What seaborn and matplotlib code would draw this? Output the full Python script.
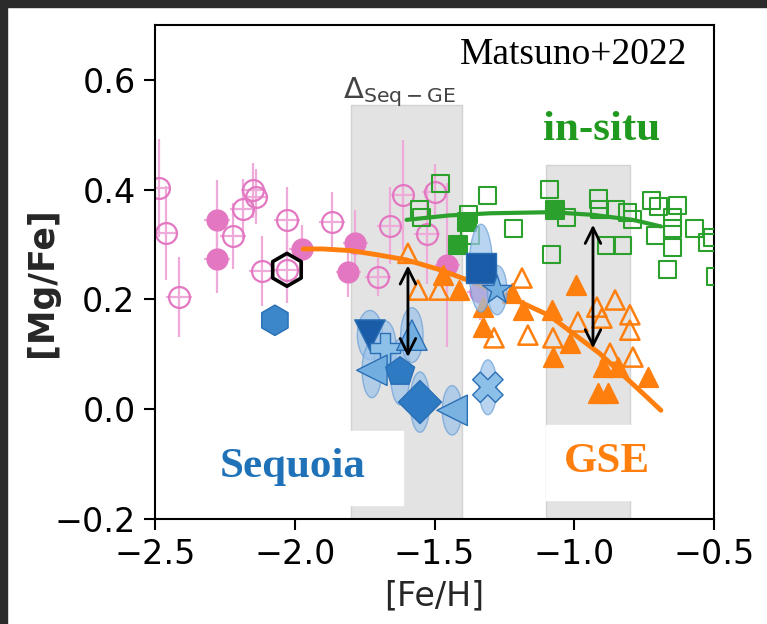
import matplotlib
matplotlib.use('Agg')
import matplotlib.pyplot as plt
from matplotlib.patches import Ellipse, Rectangle
import pandas as pd
import seaborn as sns

sns.set_style('ticks')
plt.rcParams['font.family'] = ['DejaVu Sans']

# ---- values ----
# ex-situ halo stars (pink), open and filled, with errors
pink_open_feh = [-2.486, -2.461, -2.414, -2.221, -2.185, -2.149, -2.139, -2.117,
                 -2.028, -2.028, -1.867, -1.702, -1.659, -1.613, -1.527, -1.498]
pink_open_mgfe = [0.403, 0.321, 0.204, 0.316, 0.365, 0.399, 0.387, 0.252,
                  0.345, 0.254, 0.341, 0.241, 0.334, 0.390, 0.319, 0.396]
pink_open_err = [0.09, 0.085, 0.073, 0.06, 0.055, 0.05, 0.05, 0.064,
                 0.06, 0.06, 0.055, 0.035, 0.07, 0.1, 0.09, 0.05]
pink_fill_feh = [-2.278, -2.278, -1.974, -1.784, -1.809, -1.455, -1.337]
pink_fill_mgfe = [0.345, 0.274, 0.292, 0.303, 0.250, 0.263, 0.213]
pink_fill_err = [0.073, 0.062, 0.044, 0.06, 0.045, 0.15, 0.05]
pink_xerr = 0.045
ring_feh = [-2.028]
ring_mgfe = [0.254]

# in-situ (green squares)
insitu_open_feh = [-1.480, -1.309, -1.087, -0.915, -1.219, -1.026, -1.080, -0.883,
                   -0.829, -0.811, -0.790, -0.722, -0.700, -0.632, -0.650, -0.650,
                   -0.711, -0.568, -0.650, -0.668, -0.525, -0.507, -0.908, -0.854,
                   -1.552, -1.545, -1.380, -1.373, -0.495]
insitu_open_mgfe = [0.412, 0.390, 0.401, 0.383, 0.330, 0.350, 0.281, 0.299,
                    0.299, 0.359, 0.345, 0.381, 0.369, 0.372, 0.350, 0.330,
                    0.317, 0.330, 0.294, 0.254, 0.303, 0.312, 0.363, 0.363,
                    0.363, 0.350, 0.354, 0.317, 0.241]
insitu_fill_feh = [-1.416, -1.384, -1.069]
insitu_fill_mgfe = [0.299, 0.341, 0.363]
insitu_fit_feh = [-1.60, -1.45, -1.30, -1.08, -0.93, -0.79, -0.69]
insitu_fit_mgfe = [0.345, 0.353, 0.357, 0.359, 0.354, 0.345, 0.333]

# GSE (orange triangles)
gse_open_feh = [-1.595, -1.559, -1.484, -1.187, -1.287, -1.166, -1.076, -0.987,
                -0.919, -0.901, -0.854, -0.801, -0.801, -0.790, -0.872]
gse_open_mgfe = [0.284, 0.217, 0.217, 0.239, 0.130, 0.135, 0.130, 0.159,
                 0.186, 0.166, 0.199, 0.172, 0.144, 0.095, 0.102]
gse_fill_feh = [-1.412, -1.470, -1.327, -1.327, -1.223, -1.183, -1.080, -1.076,
                -1.015, -0.994, -0.897, -0.843, -0.736, -0.915, -0.879]
gse_fill_mgfe = [0.217, 0.244, 0.186, 0.150, 0.212, 0.181, 0.181, 0.095,
                 0.120, 0.226, 0.077, 0.077, 0.059, 0.029, 0.029]
gse_fit_feh = [-1.97, -1.90, -1.80, -1.70, -1.60, -1.48, -1.38, -1.23,
               -1.09, -0.91, -0.74, -0.69]
gse_fit_mgfe = [0.292, 0.292, 0.289, 0.281, 0.272, 0.254, 0.235, 0.204,
                0.171, 0.102, 0.022, -0.002]

# Sequoia (blue symbols with error ellipses)
seq_name = ['hex', 'square', 'star', 'vdown', 'plus', 'left1', 'pent',
            'diamond', 'left2', 'cross', 'up']
seq_feh = [-2.071, -1.334, -1.276, -1.731, -1.677, -1.724, -1.623,
           -1.552, -1.437, -1.309, -1.581]
seq_mgfe = [0.162, 0.257, 0.217, 0.135, 0.111, 0.071, 0.068,
            0.013, -0.002, 0.040, 0.135]
seq_xerr = [0.0, 0.042, 0.035, 0.045, 0.04, 0.035, 0.035, 0.035, 0.035, 0.032, 0.04]
seq_yerr = [0.0, 0.08, 0.045, 0.045, 0.05, 0.05, 0.06, 0.055, 0.045, 0.05, 0.05]
seq_markers = {'hex': 'h', 'square': 's', 'star': '*', 'vdown': 'v', 'plus': 'P',
               'left1': '<', 'pent': 'p', 'diamond': 'D', 'left2': '<',
               'cross': 'X', 'up': '^'}
seq_colors = {'hex': '#3b87c9', 'square': '#1a5ca8', 'star': '#72aee0',
              'vdown': '#1a5ca8', 'plus': '#8dc0e8', 'left1': '#72aee0',
              'pent': '#2e7bc4', 'diamond': '#2e7bc4', 'left2': '#7ab3e2',
              'cross': '#8dc0e8', 'up': '#72aee0'}

# shaded [Fe/H] windows and the offsets
band_lo = [-1.8, -1.1]
band_hi = [-1.4, -0.8]
band_top = [0.555, 0.445]
arrow_feh = [-1.595, -0.933]
arrow_top = [0.262, 0.336]
arrow_bottom = [0.095, 0.111]

pink = '#e377c2'
green = '#2ca02c'
orange = '#ff7f0e'

fig = plt.figure(figsize=(7.67, 6.24), dpi=100)
ax = fig.add_axes([155 / 767, 105 / 624, 559 / 767, 494 / 624])

# gray windows
for lo, hi, top in zip(band_lo, band_hi, band_top):
    ax.fill_between([lo, hi], -0.2, top, color='#e3e3e3', edgecolor='#d2d2d2',
                    lw=1, zorder=0.5)
# white label boxes
ax.add_patch(Rectangle((0.089, 0.028), 0.355, 0.15, transform=ax.transAxes,
                       color='white', zorder=1))
ax.add_patch(Rectangle((0.700, 0.038), 0.17, 0.152, transform=ax.transAxes,
                       color='white', zorder=1))

# pink halo stars
ax.errorbar(pink_open_feh, pink_open_mgfe, yerr=pink_open_err, xerr=pink_xerr,
            fmt='o', ms=15, mfc='none', mec=pink, mew=1.6, ecolor='#eeaad8',
            elinewidth=1.6, zorder=2)
ax.errorbar(pink_fill_feh, pink_fill_mgfe, yerr=pink_fill_err, xerr=pink_xerr,
            fmt='o', ms=15, mfc=pink, mec=pink, ecolor='#eeaad8',
            elinewidth=1.6, zorder=2)
sns.scatterplot(x=ring_feh, y=ring_mgfe, marker='h', s=560, facecolors='none',
                edgecolor='black', linewidth=2.6, ax=ax, zorder=2.5)

# in-situ
sns.scatterplot(x=insitu_open_feh, y=insitu_open_mgfe, marker='s', s=150,
                facecolors='none', edgecolor=green, linewidth=1.5, ax=ax, zorder=3)
sns.scatterplot(x=insitu_fill_feh, y=insitu_fill_mgfe, marker='s', s=150,
                color=green, edgecolor=green, linewidth=1.5, ax=ax, zorder=3)
sns.lineplot(x=insitu_fit_feh, y=insitu_fit_mgfe, color=green, lw=3, ax=ax,
             zorder=3.5, sort=False)

# GSE
sns.scatterplot(x=gse_open_feh, y=gse_open_mgfe, marker='^', s=190,
                facecolors='none', edgecolor=orange, linewidth=1.8, ax=ax, zorder=3)
sns.scatterplot(x=gse_fill_feh, y=gse_fill_mgfe, marker='^', s=190,
                color=orange, edgecolor=orange, linewidth=1.5, ax=ax, zorder=3)
sns.lineplot(x=gse_fit_feh, y=gse_fit_mgfe, color=orange, lw=3.5, ax=ax,
             zorder=3.5, sort=False)

# Sequoia
for fx, fy, ex, ey in zip(seq_feh, seq_mgfe, seq_xerr, seq_yerr):
    if ey > 0:
        ax.add_patch(Ellipse((fx, fy), 2 * ex, 2 * ey, facecolor='#9cc3ea',
                             edgecolor='#6a9fd6', lw=1, alpha=0.7, zorder=4))
seq_df = pd.DataFrame({'feh': seq_feh, 'mgfe': seq_mgfe, 'name': seq_name})
sns.scatterplot(data=seq_df, x='feh', y='mgfe', hue='name', style='name',
                palette=seq_colors, markers=seq_markers, s=480,
                edgecolor='#2a6fb5', linewidth=1, legend=False, ax=ax, zorder=5)

# offsets
for fx, t, b in zip(arrow_feh, arrow_top, arrow_bottom):
    ax.annotate('', xy=(fx, b), xytext=(fx, t),
                arrowprops=dict(arrowstyle='<->', lw=2, color='black',
                                mutation_scale=28, shrinkA=0, shrinkB=0),
                zorder=6)

# labels
serif = ['Liberation Serif', 'DejaVu Serif']
ax.text(0.952, 0.939, 'Matsuno+2022', transform=ax.transAxes, ha='right',
        va='center', fontsize=27, family=serif, color='black', zorder=7)
ax.text(0.798, 0.787, 'in-situ', transform=ax.transAxes, ha='center',
        va='center', fontsize=31, family=serif, fontweight='bold',
        color='#1f9a1f', zorder=7)
ax.text(0.247, 0.105, 'Sequoia', transform=ax.transAxes, ha='center',
        va='center', fontsize=31, family=serif, fontweight='bold',
        color='#1f72b8', zorder=7)
ax.text(0.809, 0.115, 'GSE', transform=ax.transAxes, ha='center',
        va='center', fontsize=31, family=serif, fontweight='bold',
        color=orange, zorder=7)
ax.text(0.438, 0.864, r'$\Delta_{\rm Seq-GE}$', transform=ax.transAxes,
        ha='center', va='center', fontsize=21, color='#444444', zorder=7)

ax.set_xlim(-2.5, -0.5)
ax.set_ylim(-0.2, 0.7)
ax.set_xticks([-2.5, -2.0, -1.5, -1.0, -0.5])
ax.set_yticks([-0.2, 0.0, 0.2, 0.4, 0.6])
ax.tick_params(labelsize=24, length=8, width=1.5, direction='out', pad=6,
               colors='black')
for sp in ax.spines.values():
    sp.set_linewidth(1.5)
    sp.set_color('black')
ax.set_xlabel('[Fe/H]', fontsize=24, labelpad=6)
ax.set_ylabel('[Mg/Fe]', fontsize=25, fontweight='bold')
ax.yaxis.set_label_coords(-0.172, 0.48)

# dark screenshot border on top and left
fig.add_artist(Rectangle((0, 1 - 7 / 624), 1, 7 / 624, transform=fig.transFigure,
                         color='#2b2b2b', zorder=10))
fig.add_artist(Rectangle((0, 0), 7 / 767, 1, transform=fig.transFigure,
                         color='#2b2b2b', zorder=10))

fig.savefig('out.png', dpi=100)
